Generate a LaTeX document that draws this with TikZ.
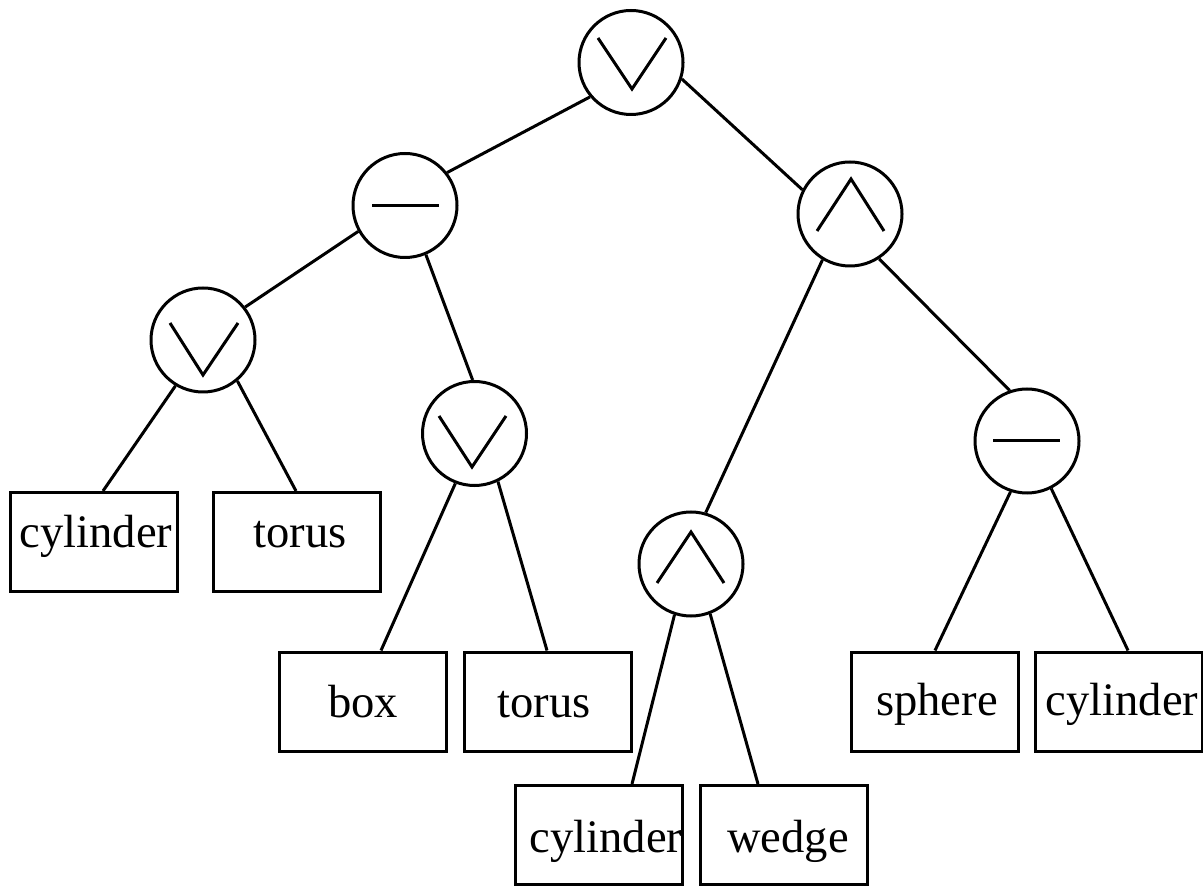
\documentclass[tikz,border=0pt]{standalone}
\usepackage{fontspec}
\setmainfont{Liberation Serif}
\begin{document}
\begin{tikzpicture}[x=0.5pt,y=-0.5pt,line width=1.5pt]
\tikzset{
  op/.style={draw,circle,minimum size=52pt,inner sep=0pt},
  leaf/.style={draw,rectangle,minimum width=83.5pt,minimum height=49.5pt,inner sep=0pt},
  word/.style={anchor=base,inner sep=0pt,font=\fontsize{23.3}{28}\selectfont},
  edge/.style={draw,line width=1.5pt}
}
\useasboundingbox (0,0) rectangle (1203,886);

% operator nodes
\node[op] (root)  at (631,62.5)  {};
\node[op] (minL)  at (405,205.5) {};
\node[op] (andR)  at (850,214)   {};
\node[op] (orA)   at (203,340)   {};
\node[op] (orB)   at (474.5,433.5) {};
\node[op] (andB)  at (691,564)   {};
\node[op] (minR)  at (1027,441)  {};

% operator symbols
\draw ([shift={(-33,-24.5)}]root.center) -- ([shift={(1,26.5)}]root.center) -- ([shift={(35,-24.5)}]root.center);
\draw ([shift={(-33,-17)}]orA.center) -- ([shift={(0,35)}]orA.center) -- ([shift={(35,-17)}]orA.center);
\draw ([shift={(-35.5,-17.5)}]orB.center) -- ([shift={(-2.5,33.5)}]orB.center) -- ([shift={(31.5,-17.5)}]orB.center);
\draw ([shift={(-33,17)}]andR.center) -- ([shift={(1,-35)}]andR.center) -- ([shift={(34,17)}]andR.center);
\draw ([shift={(-34,19)}]andB.center) -- ([shift={(0,-32)}]andB.center) -- ([shift={(33,19)}]andB.center);
\draw ([shift={(-33,0.5)}]minL.center) -- ([shift={(34,0.5)}]minL.center);
\draw ([shift={(-34,0)}]minR.center) -- ([shift={(33,0)}]minR.center);

% leaf boxes
\node[leaf] (cylA)   at (94,542)      {};
\node[leaf] (torA)   at (296.5,542)   {};
\node[leaf] (boxB)   at (363,701.5)   {};
\node[leaf] (torB)   at (547.5,701.5) {};
\node[leaf] (cylC)   at (598.5,835)   {};
\node[leaf] (wedC)   at (783.5,835)   {};
\node[leaf] (sphD)   at (934.5,701.5) {};
\node[leaf] (cylD)   at (1118.5,701.5){};

% leaf labels
\node[word] at (96,548)  {cylinder};
\node[word] at (300,548) {torus};
\node[word] at (363,717) {box};
\node[word] at (544,717) {torus};
\node[word] at (606,852) {cylinder};
\node[word] at (788,852) {wedge};
\node[word] at (937,715) {sphere};
\node[word] at (1122,715){cylinder};

% connectors
\draw[edge] (root.220) -- (minL.38.6);
\draw[edge] (root.-18.6) -- (andR.153.4);
\draw[edge] (minL.209.7) -- (orA.38.5);
\draw[edge] (minL.-67) -- (orB.92.6);
\draw[edge] (orA.-121.8) -- ([shift={(9,0)}]cylA.north);
\draw[edge] (orA.-50.9) -- ([shift={(-0.5,0)}]torA.north);
\draw[edge] (orB.-111.7) -- ([shift={(18,0)}]boxB.north);
\draw[edge] (orB.-64.6) -- ([shift={(-0.5,0)}]torB.north);
\draw[edge] (andR.-121.2) -- (andB.74.3);
\draw[edge] (andR.-57.9) -- (minR.109.4);
\draw[edge] (andB.-108.8) -- ([shift={(33.5,0)}]cylC.north);
\draw[edge] (andB.-69.3) -- ([shift={(-25.5,0)}]wedC.north);
\draw[edge] (minR.-108.1) -- ([shift={(0.5,0)}]sphD.north);
\draw[edge] (minR.-63.9) -- ([shift={(9.5,0)}]cylD.north);
\end{tikzpicture}
\end{document}
